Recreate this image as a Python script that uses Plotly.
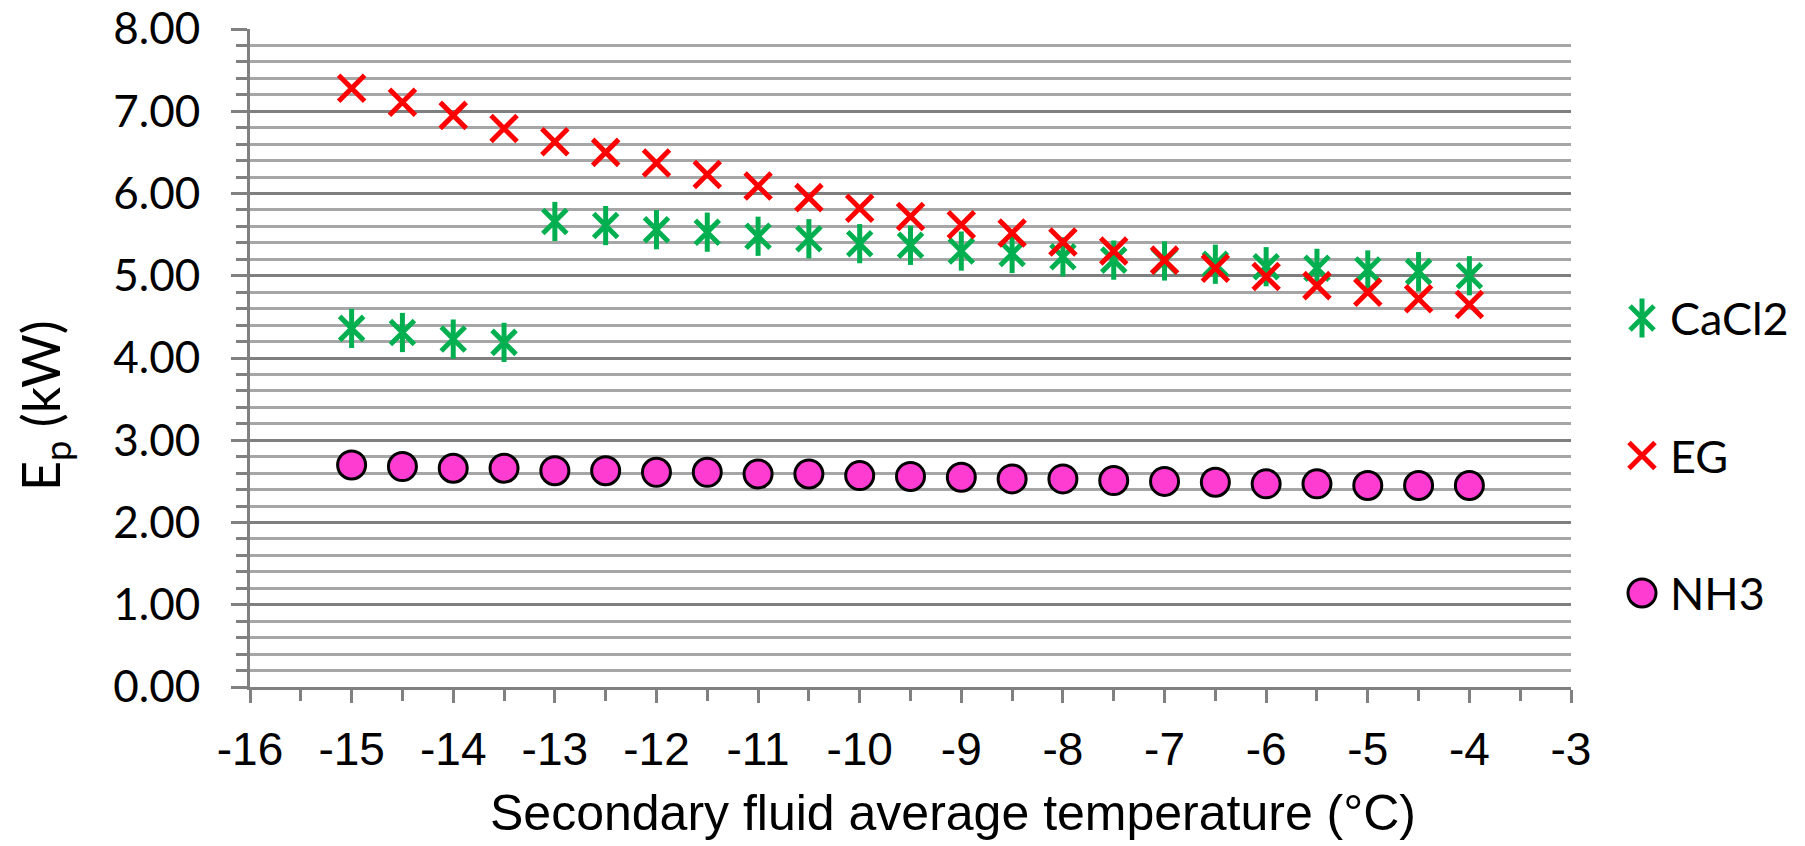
import plotly.graph_objects as go

# Data
temps = [-15, -14.5, -14, -13.5, -13, -12.5, -12, -11.5, -11, -10.5, -10, -9.5,
         -9, -8.5, -8, -7.5, -7, -6.5, -6, -5.5, -5, -4.5, -4]
cacl2 = [4.36, 4.31, 4.23, 4.19, 5.66, 5.61, 5.56, 5.53, 5.48, 5.45, 5.39, 5.37,
         5.30, 5.27, 5.23, 5.19, 5.18, 5.14, 5.11, 5.09, 5.07, 5.05, 5.00]
eg = [7.28, 7.11, 6.95, 6.79, 6.63, 6.50, 6.37, 6.23, 6.09, 5.95, 5.82, 5.72,
      5.62, 5.52, 5.41, 5.30, 5.19, 5.09, 4.99, 4.88, 4.80, 4.72, 4.65]
nh3 = [2.70, 2.68, 2.66, 2.66, 2.63, 2.63, 2.61, 2.61, 2.59, 2.59, 2.57, 2.56,
       2.55, 2.53, 2.53, 2.51, 2.50, 2.49, 2.47, 2.47, 2.45, 2.45, 2.45]
series_names = ["CaCl2", "EG", "NH3"]
y_ticks = [0, 1, 2, 3, 4, 5, 6, 7, 8]
y_tick_labels = ["0.00", "1.00", "2.00", "3.00", "4.00", "5.00", "6.00", "7.00", "8.00"]
x_ticks = list(range(-16, -2))

GREEN = "#00B050"
RED = "#FF0000"
PINK = "#FF3CD2"
CAL = "Lato"
ARIAL = "Liberation Sans"

# Layout geometry (pixels)
W, H = 1805, 846
L, R, T, B = 250, 1571, 29, 687
PW = W - L
X_DOM_END = (R - L) / PW
LEG_DOM0 = 0.86
LEG_X0 = L + LEG_DOM0 * PW
LEG_MARK_X = 1642
LEG_TEXT_X = 1668
LEG_TOP = 318
LEG_GAP = 137.5

star_style = dict(symbol="x-thin-open", size=24, color=GREEN, line=dict(width=5, color=GREEN))
bar_style = dict(symbol="line-ns-open", size=28, color=GREEN, line=dict(width=5, color=GREEN))
eg_style = dict(symbol="x-thin-open", size=26, color=RED, line=dict(width=5, color=RED))
nh3_style = dict(symbol="circle", size=28, color=PINK, line=dict(width=3, color="black"))

fig = go.Figure()
fig.add_trace(go.Scatter(x=temps, y=cacl2, mode="markers", name=series_names[0], marker=star_style))
fig.add_trace(go.Scatter(x=temps, y=cacl2, mode="markers", name=series_names[0], marker=bar_style))
fig.add_trace(go.Scatter(x=temps, y=eg, mode="markers", name=series_names[1], marker=eg_style))
fig.add_trace(go.Scatter(x=temps, y=nh3, mode="markers", name=series_names[2], marker=nh3_style))

# Custom legend (large keys, as in the reference)
legend_styles = [[star_style, bar_style], [eg_style], [nh3_style]]
annotations = []
for i, (name, styles) in enumerate(zip(series_names, legend_styles)):
    ly = LEG_TOP + i * LEG_GAP
    for st in styles:
        fig.add_trace(go.Scatter(x=[LEG_MARK_X], y=[ly], mode="markers", marker=st,
                                 xaxis="x2", yaxis="y2", hoverinfo="skip"))
    annotations.append(dict(text=name, x=LEG_TEXT_X, y=ly, xref="x2", yref="y2",
                            xanchor="left", yanchor="middle", showarrow=False,
                            font=dict(family=CAL, size=45, color="black")))

annotations += [
    dict(text="E<sub>p</sub> (kW)", xref="paper", yref="paper",
         x=(44 - L) / PW, y=(B - 406) / (B - T), xanchor="center", yanchor="middle",
         textangle=-90, showarrow=False, font=dict(family=CAL, size=52, color="black")),
    dict(text="Secondary fluid average temperature (°C)", xref="paper", yref="paper",
         x=(953 - L) / PW, y=(B - 813) / (B - T), xanchor="center", yanchor="middle",
         showarrow=False, font=dict(family=ARIAL, size=50, color="black")),
]

fig.update_layout(
    width=W, height=H,
    margin=dict(l=L, r=0, t=T, b=H - B, autoexpand=False),
    paper_bgcolor="white", plot_bgcolor="rgba(0,0,0,0)",
    showlegend=False,
    xaxis=dict(domain=[0, X_DOM_END], range=[-16, -3], tickmode="array", tickvals=x_ticks,
               ticktext=[str(v) for v in x_ticks],
               showgrid=False, zeroline=False, showline=True, linecolor="#808080", linewidth=3,
               ticks="outside", ticklen=13, tickwidth=3, tickcolor="#808080",
               tickfont=dict(family=ARIAL, size=46, color="black"), ticklabelstandoff=7,
               minor=dict(dtick=0.5, tick0=-16, ticks="outside", ticklen=11, tickwidth=3,
                          tickcolor="#808080", showgrid=False)),
    yaxis=dict(range=[0, 8], tickmode="array", tickvals=y_ticks, ticktext=y_tick_labels,
               showgrid=True, gridcolor="#7F7F7F", gridwidth=3,
               zeroline=False, showline=True, linecolor="#808080", linewidth=3,
               ticks="outside", ticklen=16, tickwidth=3, tickcolor="#808080",
               tickfont=dict(family=CAL, size=44, color="black"), ticklabelstandoff=22,
               minor=dict(dtick=0.2, tick0=0, ticks="outside", ticklen=11, tickwidth=3,
                          tickcolor="#808080", showgrid=True, gridcolor="#A6A6A6", gridwidth=2.5)),
    xaxis2=dict(domain=[LEG_DOM0, 1], range=[LEG_X0, W], anchor="y2", visible=False,
                fixedrange=True),
    yaxis2=dict(domain=[0, 1], range=[B, T], anchor="x2", visible=False, fixedrange=True),
    annotations=annotations,
)

fig.write_html("out.html")
